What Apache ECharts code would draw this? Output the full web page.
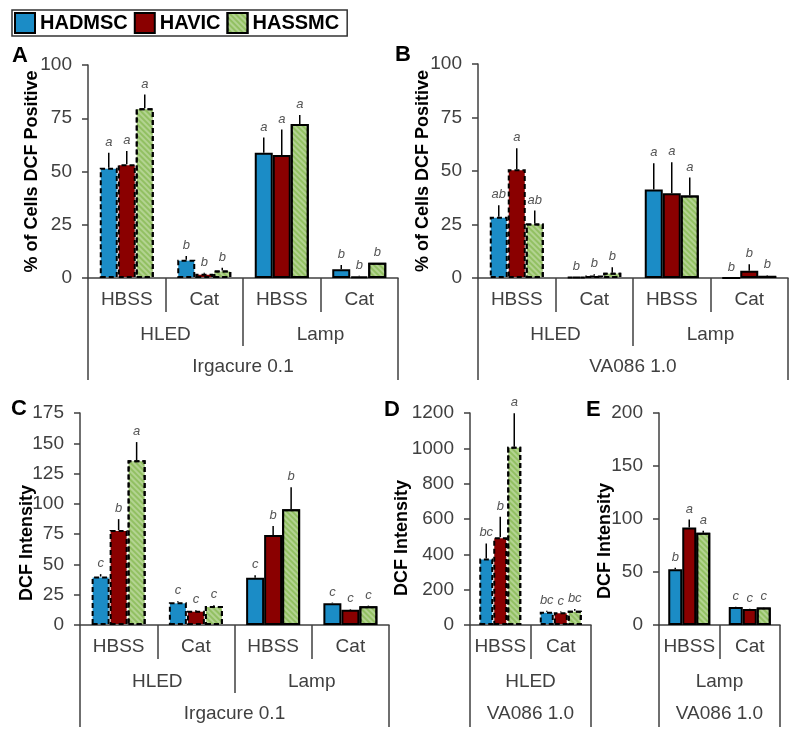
<!DOCTYPE html>
<html>
<head>
<meta charset="utf-8">
<script src="https://cdn.jsdelivr.net/npm/echarts@6/dist/echarts.min.js"></script>
<style>
  html, body { margin: 0; padding: 0; background: #fff; }
  #chart { width: 800px; height: 739px; }
</style>
</head>
<body>
<div id="chart"></div>
<script>
// cell lines (legend)
const cellLines = ['HADMSC', 'HAVIC', 'HASSMC'];
const cellColors = ['#1b8cc6', '#8a0000', '#92c062'];

// A: Irgacure 0.1, % of cells DCF positive
const aTreat = ['HBSS', 'Cat', 'HBSS', 'Cat'];
const aLight = ['HLED', 'Lamp'];
const aAgent = ['Irgacure 0.1'];
const aMean = [[51.8, 8.6, 58.8, 4.1], [53.4, 2, 57.7, 0.8], [79.7, 3.5, 72.3, 7.2]];
const aErr = [[7, 1.7, 7.2, 2], [6.2, 0.5, 12, 0.3], [6.5, 1.3, 4.2, 0]];
const aSig = [['a', 'b', 'a', 'b'], ['a', 'b', 'a', 'b'], ['a', 'b', 'a', 'b']];

// B: VA086 1.0, % of cells DCF positive
const bTreat = ['HBSS', 'Cat', 'HBSS', 'Cat'];
const bLight = ['HLED', 'Lamp'];
const bAgent = ['VA086 1.0'];
const bMean = [[28.6, 0.4, 41.4, 0], [50.8, 1.2, 39.6, 3.4], [25.5, 2.5, 38.5, 1]];
const bErr = [[5.4, 0, 12.2, 0], [9.8, 0.5, 14.5, 3], [6, 2.5, 8.5, 0.3]];
const bSig = [['ab', 'b', 'a', 'b'], ['a', 'b', 'a', 'b'], ['ab', 'b', 'a', 'b']];

// C: Irgacure 0.1, DCF intensity
const cTreat = ['HBSS', 'Cat', 'HBSS', 'Cat'];
const cLight = ['HLED', 'Lamp'];
const cAgent = ['Irgacure 0.1'];
const cMean = [[40, 18.7, 39, 18], [78.4, 11.8, 74.3, 12.5], [136, 15.7, 95.5, 15.5]];
const cErr = [[2, 1, 2, 0.5], [9, 0.5, 7.4, 0.5], [15, 0.5, 18.2, 0.5]];
const cSig = [['c', 'c', 'c', 'c'], ['b', 'c', 'b', 'c'], ['a', 'c', 'b', 'c']];

// D: VA086 1.0 + HLED, DCF intensity
const dTreat = ['HBSS', 'Cat'];
const dLight = ['HLED'];
const dAgent = ['VA086 1.0'];
const dMean = [[377, 75], [496, 72], [1009, 80]];
const dErr = [[85, 5], [117, 5], [189, 10]];
const dSig = [['bc', 'bc'], ['b', 'c'], ['a', 'bc']];

// E: VA086 1.0 + Lamp, DCF intensity
const eTreat = ['HBSS', 'Cat'];
const eLight = ['Lamp'];
const eAgent = ['VA086 1.0'];
const eMean = [[52.5, 17], [92, 15], [87, 16.5]];
const eErr = [[1.5, 0.3], [7.6, 0.3], [2, 0.3]];
const eSig = [['b', 'c'], ['a', 'c'], ['a', 'c']];

const font = "'Liberation Sans', Arial, sans-serif";
const axisColor = '#404040';

// nameShift: pushes the rotated y-axis title down (px)
const panels = [
  { id: 'A', grid: { left: 88, top: 65, width: 310, height: 213 }, yMax: 100, yStep: 25,
    yName: '% of Cells DCF Positive', nameGap: 47, nameShift: 0, barWidth: 18, letterPos: { left: 12, top: 45 },
    treat: aTreat, light: aLight, agent: aAgent, mean: aMean, err: aErr, sig: aSig },
  { id: 'B', grid: { left: 478, top: 64, width: 310, height: 214 }, yMax: 100, yStep: 25,
    yName: '% of Cells DCF Positive', nameGap: 46, nameShift: 0, barWidth: 18, letterPos: { left: 395, top: 44 },
    treat: bTreat, light: bLight, agent: bAgent, mean: bMean, err: bErr, sig: bSig },
  { id: 'C', grid: { left: 80, top: 413, width: 309, height: 212 }, yMax: 175, yStep: 25,
    yName: 'DCF Intensity', nameGap: 44, nameShift: 24, barWidth: 18, letterPos: { left: 11, top: 398 },
    treat: cTreat, light: cLight, agent: cAgent, mean: cMean, err: cErr, sig: cSig },
  { id: 'D', grid: { left: 470, top: 413, width: 121, height: 212 }, yMax: 1200, yStep: 200,
    yName: 'DCF Intensity', nameGap: 59, nameShift: 19, barWidth: 14, letterPos: { left: 384, top: 399 },
    treat: dTreat, light: dLight, agent: dAgent, mean: dMean, err: dErr, sig: dSig },
  { id: 'E', grid: { left: 659, top: 413, width: 121, height: 212 }, yMax: 200, yStep: 50,
    yName: 'DCF Intensity', nameGap: 45, nameShift: 22, barWidth: 14, letterPos: { left: 586, top: 399 },
    treat: eTreat, light: eLight, agent: eAgent, mean: eMean, err: eErr, sig: eSig }
];

// error bar + significance letter above it
function errRender(offset, sig) {
  return function (params, api) {
    const c = api.value(0), m = api.value(1), e = api.value(2);
    const base = api.coord([c, m]);
    const top = api.coord([c, m + e]);
    const x = base[0] + offset;
    const children = [];
    if (e > 0) {
      children.push({ type: 'line', shape: { x1: x, y1: base[1], x2: x, y2: top[1] },
        style: { stroke: '#000', lineWidth: 1.5 } });
    }
    children.push({ type: 'text', x: x, y: top[1] - 4,
      style: { text: sig[params.dataIndex], align: 'center', verticalAlign: 'bottom',
        textAlign: 'center', textVerticalAlign: 'bottom',
        font: 'italic 13px ' + font, fill: '#555' } });
    return { type: 'group', children: children };
  };
}

const hatch = { symbol: 'rect', symbolSize: 1, dashArrayX: [1, 0], dashArrayY: [2, 2],
  rotation: Math.PI / 4, color: 'rgba(255,255,255,0.3)' };

const grid = [], xAxis = [], yAxis = [], series = [], title = [];
const tickLen = [34, 68, 102];
const labelMargin = [12, 47, 79];

panels.forEach((p, pi) => {
  grid.push(p.grid);
  title.push({ text: p.id, left: p.letterPos.left, top: p.letterPos.top, padding: 0,
    textStyle: { fontSize: 22, fontWeight: 'bold', color: '#000', fontFamily: font } });

  [p.treat, p.light, p.agent].forEach((cats, li) => {
    xAxis.push({
      type: 'category', gridIndex: pi, position: 'bottom', data: cats,
      axisLine: { show: li === 0, lineStyle: { color: axisColor, width: 1.5 } },
      axisTick: { show: true, length: tickLen[li], lineStyle: { color: axisColor, width: 1.5 } },
      axisLabel: { interval: 0, margin: labelMargin[li], fontSize: 19, color: '#404040', fontFamily: font },
      splitLine: { show: false }
    });
  });

  yAxis.push({
    type: 'value', gridIndex: pi, min: 0, max: p.yMax, interval: p.yStep,
    axisLine: { show: true, lineStyle: { color: axisColor, width: 1.5 } },
    axisTick: { show: true, length: 6, lineStyle: { color: axisColor, width: 1.5 } },
    axisLabel: { margin: 16, fontSize: 19, color: '#404040', fontFamily: font,
      formatter: v => String(v) },
    splitLine: { show: false },
    name: p.yName, nameLocation: 'middle', nameRotate: 90, nameGap: p.nameGap,
    nameMoveOverlap: false,
    nameTextStyle: { fontSize: 18, fontWeight: 'bold', color: '#000', fontFamily: font,
      padding: [0, p.nameShift * 2, 0, 0] }
  });

  const perLight = p.treat.length / p.light.length;
  cellLines.forEach((name, si) => {
    series.push({
      name: name, type: 'bar', xAxisIndex: pi * 3, yAxisIndex: pi,
      barWidth: p.barWidth, barGap: '0%',
      itemStyle: { color: cellColors[si], borderColor: '#000', borderWidth: 2,
        decal: si === 2 ? hatch : null },
      data: p.mean[si].map((v, ci) => ({
        value: v,
        itemStyle: { borderType: p.light[Math.floor(ci / perLight)] === 'HLED' ? [5, 3] : 'solid' }
      }))
    });
    series.push({
      type: 'custom', xAxisIndex: pi * 3, yAxisIndex: pi, z: 5,
      encode: { x: 0, y: 1 },
      data: p.mean[si].map((v, ci) => [ci, v, p.err[si][ci]]),
      renderItem: errRender((si - 1) * p.barWidth, p.sig[si])
    });
  });
});

const chart = echarts.init(document.getElementById('chart'));
chart.setOption({
  animation: false,
  backgroundColor: '#fff',
  title: title,
  legend: {
    data: cellLines, left: 12, top: 10, icon: 'rect', selectedMode: false,
    itemWidth: 20, itemHeight: 20, itemGap: 6,
    padding: [2, 8, 2, 2], borderColor: '#333', borderWidth: 1.5, backgroundColor: '#fff',
    itemStyle: { borderColor: '#000', borderWidth: 2 },
    textStyle: { fontSize: 20, fontWeight: 'bold', color: '#000', fontFamily: font }
  },
  grid: grid,
  xAxis: xAxis,
  yAxis: yAxis,
  series: series
});
</script>
</body>
</html>
